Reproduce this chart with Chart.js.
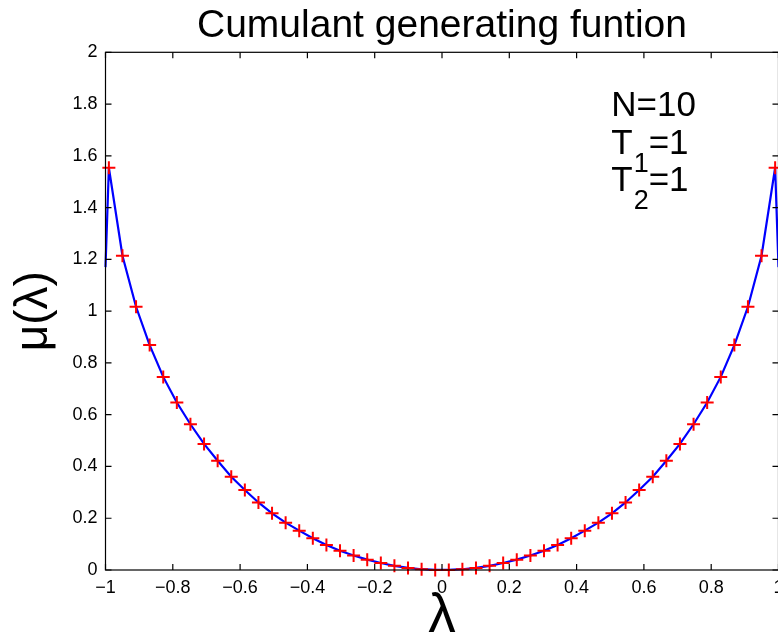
<!DOCTYPE html>
<html>
<head>
<meta charset="utf-8">
<script src="https://cdn.jsdelivr.net/npm/chart.js@4/dist/chart.umd.min.js"></script>
<style>
  html, body { margin: 0; padding: 0; background: #fff; overflow: hidden; }
  #wrap { width: 800px; height: 642px; }
</style>
</head>
<body>
<div id="wrap"><canvas id="cgf" width="800" height="642"></canvas></div>
<script>
// lambda values where the red markers sit
const lambdaMarks = [
  -0.99, -0.9496, -0.9092, -0.8688, -0.8284, -0.788, -0.7476, -0.7071, -0.6667, -0.6263,
  -0.5859, -0.5455, -0.5051, -0.4647, -0.4243, -0.3839, -0.3435, -0.3031, -0.2627, -0.2222,
  -0.1818, -0.1414, -0.101, -0.0606, -0.0202,
  0.0202, 0.0606, 0.101, 0.1414, 0.1818, 0.2222, 0.2627, 0.3031, 0.3435, 0.3839,
  0.4243, 0.4647, 0.5051, 0.5455, 0.5859, 0.6263, 0.6667, 0.7071, 0.7476, 0.788,
  0.8284, 0.8688, 0.9092, 0.9496, 0.99
];
// mu(lambda)
const muMarks = [
  1.554, 1.214, 1.017, 0.869, 0.746, 0.647, 0.563, 0.487, 0.422, 0.36,
  0.309, 0.261, 0.219, 0.183, 0.152, 0.123, 0.097, 0.074, 0.056, 0.04,
  0.027, 0.016, 0.008, 0.003, 0.0003,
  0.0003, 0.003, 0.008, 0.016, 0.027, 0.04, 0.056, 0.074, 0.097, 0.123,
  0.152, 0.183, 0.219, 0.261, 0.309, 0.36, 0.422, 0.487, 0.563, 0.647,
  0.746, 0.869, 1.017, 1.214, 1.554
];
// blue curve also reaches the edges of the range
const edgeLambda = [-1, 1];
const edgeMu = [1.17, 1.17];

const xTicks = [-1, -0.8, -0.6, -0.4, -0.2, 0, 0.2, 0.4, 0.6, 0.8, 1];
const yTicks = [0, 0.2, 0.4, 0.6, 0.8, 1, 1.2, 1.4, 1.6, 1.8, 2];

const noteLines = [
  { main: "N=10" },
  { main: "T", sub: "1", rest: "=1" },
  { main: "T", sub: "2", rest: "=1" },
];

const FONT = "'Liberation Sans', Arial, Helvetica, sans-serif";

let markerPts = lambdaMarks.map((x, i) => ({ x: x, y: muMarks[i] }));
let curvePts = [{ x: edgeLambda[0], y: edgeMu[0] }]
  .concat(markerPts)
  .concat([{ x: edgeLambda[1], y: edgeMu[1] }]);

function fmt(v) {
  let r = Math.round(v * 10) / 10;
  let s = Number.isInteger(r) ? String(Math.abs(r)) : Math.abs(r).toFixed(1);
  return (r < 0 ? "\u2212" : "") + s;
}

// frame, inward ticks and the N / T text
const matlabAxes = {
  id: "matlabAxes",
  afterDraw(chart) {
    const ctx = chart.ctx;
    const a = chart.chartArea;
    const xs = chart.scales.x;
    const ys = chart.scales.y;
    const tl = 6;
    ctx.save();
    ctx.strokeStyle = "#000";
    ctx.lineWidth = 1.2;
    ctx.strokeRect(a.left, a.top, a.right - a.left, a.bottom - a.top);
    ctx.beginPath();
    xTicks.forEach((v) => {
      let px = xs.getPixelForValue(v);
      ctx.moveTo(px, a.bottom);
      ctx.lineTo(px, a.bottom - tl);
      ctx.moveTo(px, a.top);
      ctx.lineTo(px, a.top + tl);
    });
    yTicks.forEach((v) => {
      let py = ys.getPixelForValue(v);
      ctx.moveTo(a.left, py);
      ctx.lineTo(a.left + tl, py);
      ctx.moveTo(a.right, py);
      ctx.lineTo(a.right - tl, py);
    });
    ctx.stroke();

    ctx.fillStyle = "#000";
    ctx.textBaseline = "alphabetic";
    ctx.textAlign = "left";
    let x0 = xs.getPixelForValue(0.5) + 1;
    let y0 = ys.getPixelForValue(1.8) + 12;
    noteLines.forEach((ln, i) => {
      let y = y0 + i * 37.5;
      ctx.font = "35px " + FONT;
      ctx.fillText(ln.main, x0, y);
      let w = ctx.measureText(ln.main).width;
      if (ln.sub) {
        ctx.font = "27px " + FONT;
        ctx.fillText(ln.sub, x0 + w + 1, y + 18);
        let ws = ctx.measureText(ln.sub).width;
        ctx.font = "35px " + FONT;
        ctx.fillText(ln.rest, x0 + w + ws + 1, y);
      }
    });
    ctx.restore();
  },
};

var ctx = document.getElementById("cgf").getContext("2d");
var cgfChart = new Chart(ctx, {
  type: "scatter",
  data: {
    datasets: [
      {
        label: "markers",
        data: markerPts,
        showLine: false,
        pointStyle: "cross",
        pointRadius: 6.5,
        pointBorderWidth: 2,
        borderColor: "#ff0000",
        backgroundColor: "#ff0000",
        clip: false,
      },
      {
        label: "curve",
        data: curvePts,
        showLine: true,
        pointRadius: 0,
        borderColor: "#0000ff",
        borderWidth: 2.2,
        tension: 0,
        clip: false,
      },
    ],
  },
  options: {
    responsive: false,
    animation: false,
    devicePixelRatio: 1,
    layout: { padding: { left: 0, right: 21.5, top: 0, bottom: 0 } },
    plugins: {
      legend: { display: false },
      tooltip: { enabled: false },
      title: {
        display: true,
        fullSize: false,
        text: "Cumulant generating funtion",
        color: "#000",
        font: { family: FONT, size: 39, weight: "normal", lineHeight: 1.2 },
        padding: { top: 3, bottom: 2.5 },
      },
    },
    scales: {
      x: {
        type: "linear",
        min: -1,
        max: 1,
        afterBuildTicks: (s) => { s.ticks = xTicks.map((v) => ({ value: v })); },
        afterFit: (s) => { s.height = 72; },
        grid: { display: false, drawTicks: false },
        border: { display: false },
        ticks: {
          color: "#000",
          padding: 7,
          maxRotation: 0,
          font: { family: FONT, size: 18 },
          callback: (v) => fmt(v),
        },
        title: {
          display: true,
          text: "\u03bb",
          color: "#000",
          font: { family: FONT, size: 55, lineHeight: 0.9 },
          padding: { top: 0, bottom: 0 },
        },
      },
      y: {
        type: "linear",
        min: 0,
        max: 2,
        afterBuildTicks: (s) => { s.ticks = yTicks.map((v) => ({ value: v })); },
        afterFit: (s) => { s.width = 105.5; },
        grid: { display: false, drawTicks: false },
        border: { display: false },
        ticks: {
          color: "#000",
          padding: 8,
          font: { family: FONT, size: 18 },
          callback: (v) => fmt(v),
        },
        title: {
          display: true,
          text: "\u03bc(\u03bb)",
          color: "#000",
          font: { family: FONT, size: 46 },
          padding: { top: 7, bottom: 0 },
        },
      },
    },
  },
  plugins: [matlabAxes],
});
</script>
</body>
</html>
